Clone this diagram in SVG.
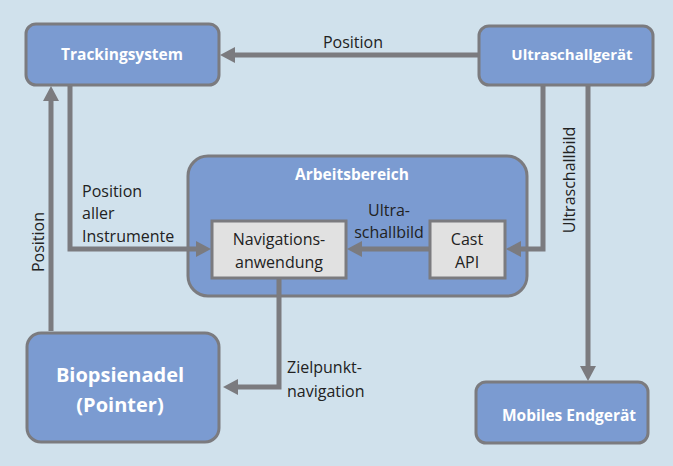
<svg xmlns="http://www.w3.org/2000/svg" width="673" height="466" viewBox="0 0 673 466">
  <defs>
    <style>
      .box { fill: #7b9bd1; stroke: #7b7b7f; stroke-width: 3; }
      .inner { fill: #e1e1e1; stroke: #7b7b7f; stroke-width: 3; }
      .title { font-family: "Open Sans", "Liberation Sans", sans-serif; font-weight: bold; fill: #ffffff; text-anchor: middle; }
      .lbl { font-family: "Open Sans", "Liberation Sans", sans-serif; font-size: 16px; fill: #222222; }
      .conn { fill: none; stroke: #7b7b7f; stroke-width: 5; marker-end: url(#ah); }
    </style>
    <marker id="ah" markerUnits="userSpaceOnUse" markerWidth="16" markerHeight="16" viewBox="0 -8 16 16" refX="1" refY="0" orient="auto">
      <path d="M0,-8 L15,0 L0,8 z" fill="#7b7b7f"/>
    </marker>
  </defs>

  <rect width="673" height="466" fill="#d0e1ec"/>

  <!-- workspace container -->
  <g id="arbeitsbereich">
    <rect class="box" x="188" y="156" width="339" height="140" rx="20"/>
    <text class="title" x="352" y="180" font-size="15.5">Arbeitsbereich</text>
  </g>

  <g id="connectors">
    <path class="conn" d="M479,55 L234,55"/>
    <path class="conn" d="M51,331 L51,100"/>
    <path class="conn" d="M70,86 L70,249 L197,249"/>
    <path class="conn" d="M543,86 L543,249 L520,249"/>
    <path class="conn" d="M430,249 L361,249"/>
    <path class="conn" d="M588,86 L588,367"/>
    <path class="conn" d="M279,279 L279,387 L237,387"/>
  </g>

  <g id="labels">
    <text class="lbl" x="353" y="48" text-anchor="middle">Position</text>
    <text class="lbl" x="82" y="197">Position</text>
    <text class="lbl" x="82" y="219">aller</text>
    <text class="lbl" x="82" y="242">Instrumente</text>
    <text class="lbl" transform="translate(44,242) rotate(-90)" text-anchor="middle">Position</text>
    <text class="lbl" transform="translate(575,180) rotate(-90)" text-anchor="middle">Ultraschallbild</text>
    <text class="lbl" x="389" y="216" text-anchor="middle">Ultra-</text>
    <text class="lbl" x="389" y="238" text-anchor="middle">schallbild</text>
    <text class="lbl" x="287" y="373">Zielpunkt-</text>
    <text class="lbl" x="287" y="397">navigation</text>
  </g>

  <g id="trackingsystem">
    <rect class="box" x="26" y="24" width="193" height="61" rx="10"/>
    <text class="title" x="122" y="60" font-size="15.5">Trackingsystem</text>
  </g>

  <g id="ultraschallgeraet">
    <rect class="box" x="479" y="26" width="174" height="59" rx="10"/>
    <text class="title" x="572" y="60" font-size="15">Ultraschallgerät</text>
  </g>

  <g id="navigationsanwendung">
    <rect class="inner" x="212" y="221" width="134" height="57"/>
    <text class="lbl" x="279" y="245" text-anchor="middle">Navigations-</text>
    <text class="lbl" x="279" y="268" text-anchor="middle">anwendung</text>
  </g>

  <g id="cast-api">
    <rect class="inner" x="430" y="221" width="75" height="57"/>
    <text class="lbl" x="467" y="245" text-anchor="middle">Cast</text>
    <text class="lbl" x="467" y="268" text-anchor="middle">API</text>
  </g>

  <g id="biopsienadel">
    <rect class="box" x="27" y="333" width="192" height="109" rx="14" stroke-width="7"/>
    <text class="title" x="120" y="382" font-size="20">Biopsienadel</text>
    <text class="title" x="120" y="412" font-size="20">(Pointer)</text>
  </g>

  <g id="mobiles-endgeraet">
    <rect class="box" x="476" y="382" width="172" height="61" rx="10"/>
    <text class="title" x="569" y="421" font-size="15.5">Mobiles Endgerät</text>
  </g>
</svg>
